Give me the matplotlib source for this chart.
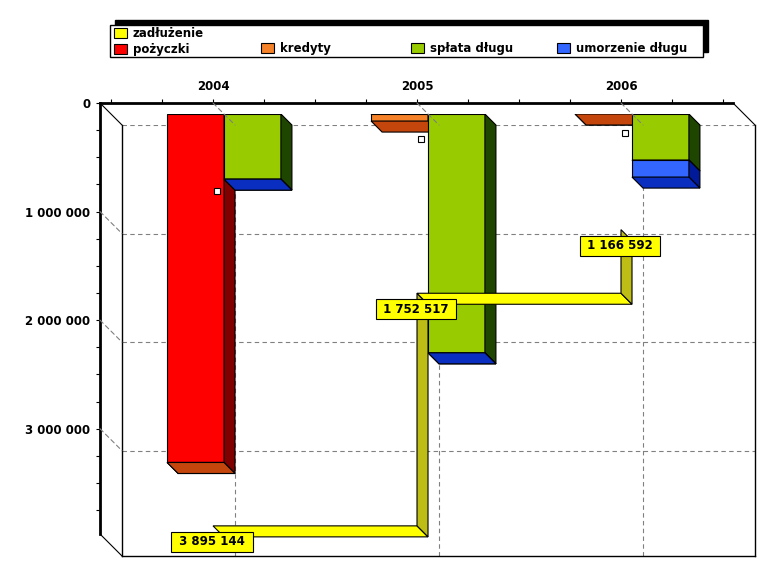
import numpy as np
import matplotlib.pyplot as plt
from matplotlib.patches import Polygon, Rectangle, Patch, ConnectionPatch
from matplotlib.ticker import MultipleLocator
from matplotlib.transforms import ScaledTranslation

lata = ['2004', '2005', '2006']
pozyczki = [3210000, 0, 0]
kredyty = [0, 65000, 0]
splata = [600000, 2200000, 424000]
umorzenie = [0, 0, 157000]
zadluzenie = [3895144, 1752517, 1166592]
znaczniki = [811000, 332000, 276000]
os_y = [0, 1000000, 2000000, 3000000]

# kolory: przod, bok, spod
c_poz = ('#FF0000', '#800000', '#C00000')
c_kre = ('#F58228', '#803000', '#C4460C')
c_spl = ('#99CC00', '#1E4600', '#4C6600')
c_umo = ('#3366FF', '#001A99', '#0A2EC0')

plt.rcParams['font.family'] = 'DejaVu Sans'
plt.rcParams['font.size'] = 8.5
plt.rcParams['font.weight'] = 'bold'

W, H = 777, 579
fig = plt.figure(figsize=(W / 100, H / 100), dpi=100)
fig.patch.set_facecolor('white')


def pos(x, y):
    return [x / W, 1 - (y + 431) / H, 633 / W, 431 / H]


ax_b = fig.add_axes(pos(122, 125))
ax = fig.add_axes(pos(111, 114))
ax_f = fig.add_axes(pos(100, 103))

xlim = (-0.554, 2.549)
ylim = (3.97e6, 0)
for a in (ax_b, ax, ax_f):
    a.set_xlim(xlim)
    a.set_ylim(ylim)
    a.set_facecolor('none')

# tylna sciana
ax_b.spines['top'].set_visible(False)
for s in ['left', 'bottom', 'right']:
    ax_b.spines[s].set_linewidth(1)
ax_b.set_xticks(range(3))
ax_b.set_yticks(os_y)
ax_b.tick_params(length=0, labelbottom=False, labelleft=False)
ax_b.grid(True, color='#808080', ls=(0, (4, 3)), lw=0.8)

# slupki 3D
ax.axis('off')
w = 0.279
dx, dy = 11 / 204, 11 / 108.5 * 1e6


def segment(x0, y0, h, cols):
    cf, cs, ce = cols
    x1, y1 = x0 + w, y0 + h
    ax.bar(x0, h, w, bottom=y0, align='edge', color=cf, edgecolor='black', lw=0.8)
    ax.add_patch(Polygon([(x1, y0), (x1 + dx, y0 + dy), (x1 + dx, y1 + dy), (x1, y1)],
                         fc=cs, ec='black', lw=0.8))
    ax.add_patch(Polygon([(x0, y1), (x1, y1), (x1 + dx, y1 + dy), (x0 + dx, y1 + dy)],
                         fc=ce, ec='black', lw=0.8))


for i in range(3):
    segment(i - w, 0, pozyczki[i], c_poz)
    segment(i - w, pozyczki[i], kredyty[i], c_kre)
    segment(i, 0, splata[i], c_spl)
    segment(i, splata[i], umorzenie[i], c_umo)

# zadluzenie - wstega schodkowa
pts = [(0, zadluzenie[0])]
for i in range(1, 3):
    pts += [(i, zadluzenie[i - 1]), (i, zadluzenie[i])]
for (xa, ya), (xb, yb) in zip(pts[:-1], pts[1:]):
    c = '#FFFF00' if ya == yb else '#BDBD16'
    ax.add_patch(Polygon([(xa, ya), (xb, yb), (xb - dx, yb - dy), (xa - dx, ya - dy)],
                         fc=c, ec='black', lw=0.8, zorder=3))
for i, v in enumerate(zadluzenie):
    ax.annotate(' ' + f'{v:,}'.replace(',', ' ') + ' ', (i, v), xytext=(-12, -5),
                textcoords='offset pixels', ha='center', va='center', zorder=5,
                bbox=dict(boxstyle='square,pad=0.3', fc='#FFFF00', ec='black', lw=0.8))

# przednia rama i osie
ax_f.spines[['right', 'bottom']].set_visible(False)
ax_f.spines[['left', 'top']].set_linewidth(2)
ax_f.xaxis.tick_top()
ax_f.set_xticks(range(3), lata)
ax_f.set_xticks(np.arange(-0.5, 2.51, 0.25), minor=True)
ax_f.set_yticks(os_y, [f'{t:,}'.replace(',', ' ') for t in os_y])
ax_f.yaxis.set_minor_locator(MultipleLocator(250000))
ax_f.tick_params(which='both', direction='out', length=3, width=0.8, pad=4)
ax_f.plot(range(3), znaczniki, 's', ms=5, mfc='white', mec='black', mew=0.8,
          transform=ax_f.transData + ScaledTranslation(0.04, 0, fig.dpi_scale_trans))


def connect(xy, ta, tb, **kw):
    fig.add_artist(ConnectionPatch(xyA=xy, xyB=xy, coordsA=ta, coordsB=tb, **kw))


for c in [(0, 1), (0, 0), (1, 1)]:
    connect(c, ax_f.transAxes, ax_b.transAxes, color='black', lw=0.8)
for t in os_y[1:]:
    connect((xlim[0], t), ax_f.transData, ax_b.transData, color='#808080', lw=0.8, ls=(0, (4, 3)))
for i in range(3):
    connect((i, 0), ax_f.transData, ax_b.transData, color='#808080', lw=0.8, ls=(0, (4, 3)))

# legenda
fig.add_artist(Rectangle((115 / W, 1 - 52 / H), 593 / W, 32 / H, transform=fig.transFigure,
                         fc='black', ec='black', zorder=2))
fig.add_artist(Rectangle((110 / W, 1 - 57 / H), 593 / W, 32 / H, transform=fig.transFigure,
                         fc='white', ec='black', lw=1, zorder=3))
kolumny = [[('zadłużenie', '#FFFF00'), ('pożyczki', c_poz[0])],
           [('kredyty', c_kre[0])],
           [('spłata długu', c_spl[0])],
           [('umorzenie długu', c_umo[0])]]
x_kol = [114, 261, 411, 557]
for k, (items, xk) in enumerate(zip(kolumny, x_kol)):
    top = 27 if k == 0 else 42
    leg = fig.legend(handles=[Patch(fc=c, ec='black', lw=0.8, label=n) for n, c in items],
                     loc='upper left', bbox_to_anchor=(xk / W, 1 - top / H), frameon=False,
                     borderpad=0, borderaxespad=0, handlelength=1.1, handleheight=0.85,
                     handletextpad=0.5, labelspacing=0.25,
                     prop={'weight': 'bold', 'size': 8.5})
    leg.set_zorder(4)

fig.savefig('out.png', dpi=100)
